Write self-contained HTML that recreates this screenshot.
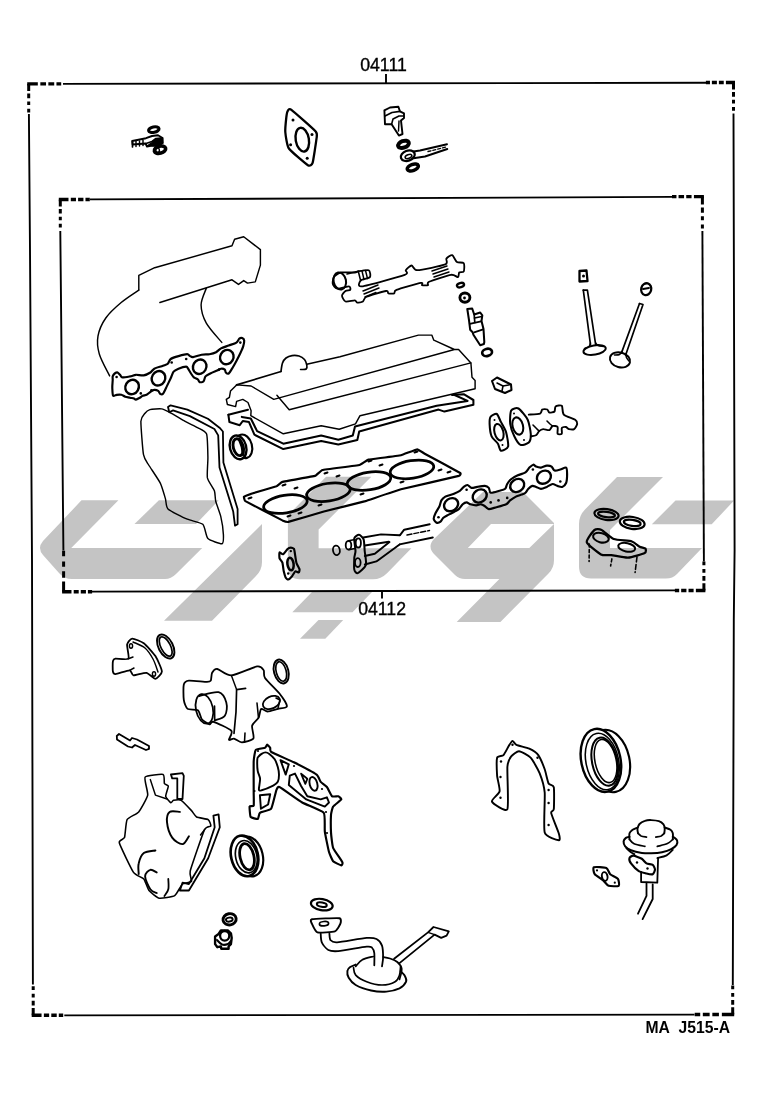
<!DOCTYPE html>
<html><head><meta charset="utf-8">
<style>
html,body{margin:0;padding:0;background:#fff;}
body{width:776px;height:1116px;overflow:hidden;position:relative;font-family:"Liberation Sans",sans-serif;}
svg{position:absolute;left:0;top:0;}
.t{font-family:"Liberation Sans",sans-serif;fill:#000;filter:grayscale(1);}
</style></head><body>
<svg width="776" height="1116" viewBox="0 0 776 1116">
<rect width="776" height="1116" fill="#fff"/>
<!-- WATERMARK -->
<g id="wm" fill="#c4c4c4" stroke="none">
<path d="M81.5 500.3 L118.4 500.3 L71.2 548 L202.2 548 L176 574 Q171 579 165 579 L72 579 Q64 579 59 573 L43 555 Q37 548 43 541 Z"/>
<path d="M158.9 500.3 L218.7 500.3 L196 524 L134.5 524 Z"/>
<path d="M262 524 L262 562 Q262 570 256 576 L212 620.7 L164 620.7 Z"/>
<path d="M287.9 515.3 L326.1 476.8 L371.3 476.8 L318.6 529.6 L318.6 548.3 L411.4 548.3 L387 573.2 Q381 579.2 373 579.2 L300 579.2 Q287.9 579.2 287.9 567 Z"/>
<path d="M312 592 L372 592 L352.5 612.3 L292.3 612.3 Z"/>
<path d="M318.5 620 L343.2 620 L325.3 638.7 L300 638.7 Z"/>
<path fill-rule="evenodd" d="M483 492 L523 492 L554 523 L554 560 Q554 568 548.5 573.5 L500.4 621.9 L456.7 621.9 L499.4 579 L465 579 Q459 579 455 575 L434.5 554.5 Q426.5 546.5 434.5 538.5 Z M491 524 L554 524 L529.3 548 L467.8 548 Z"/>
<path d="M617 477 L663 477 L610 530 L610 548 L702 548 L677 574 Q672.7 578.5 666 578.5 L591 578.5 Q579 578.5 579 566.5 L579 524 Q579 515.5 585 509.5 Z"/>
<path d="M675.5 500.6 L734 500.6 L711.7 524.3 L651.8 524.3 Z"/>
</g>
<!-- BORDERS -->
<g id="borders" fill="none" stroke="#000" stroke-width="1.9" stroke-linecap="butt">
<path d="M63 83.9 L706 82.8"/>
<path d="M733.5 113.5 L734.6 550 L733.8 620 L732.8 985"/>
<path d="M64.3 1015.4 L694.5 1014.6"/>
<path d="M28.9 114 L30 250 L32 560 L32.9 984.5"/>
<path d="M90 199.4 L672 196.9"/>
<path d="M702.4 231 L703.9 561.4"/>
<path d="M92 591.6 L675.5 590.4"/>
<path d="M60.3 231 L61 300 L63.4 550.5"/>
</g>
<g id="corners" fill="none" stroke="#000" stroke-linecap="butt">
<path d="M27.2 83.9 L61.2 83.9" stroke-width="3.4" stroke-dasharray="10.62 2.53 5.67 2.33 5.87 2.23 4.76 999"/>
<path d="M28.7 83.9 L28.7 112.4" stroke-width="3.0" stroke-dasharray="7.07 2.63 4.65 3.13 3.64 3.64 3.74 999"/>
<path d="M735.0 82.5 L705.9 82.5" stroke-width="3.4" stroke-dasharray="9.09 2.17 4.85 1.99 5.02 1.91 4.07 999"/>
<path d="M733.5 82.5 L733.5 110.7" stroke-width="3.0" stroke-dasharray="7.00 2.60 4.60 3.10 3.60 3.60 3.70 999"/>
<path d="M31.7 1015.3 L63.2 1015.3" stroke-width="3.4" stroke-dasharray="9.84 2.34 5.25 2.16 5.44 2.06 4.41 999"/>
<path d="M33.2 1015.3 L33.2 986.3" stroke-width="3.0" stroke-dasharray="7.20 2.67 4.73 3.19 3.70 3.70 3.80 999"/>
<path d="M734.2 1014.5 L694.7 1014.5" stroke-width="3.4" stroke-dasharray="12.34 2.94 6.58 2.70 6.82 2.59 5.53 999"/>
<path d="M732.7 1014.5 L732.7 985.5" stroke-width="3.0" stroke-dasharray="7.20 2.67 4.73 3.19 3.70 3.70 3.80 999"/>
<path d="M58.8 199.5 L89.8 199.5" stroke-width="3.4" stroke-dasharray="9.69 2.31 5.17 2.12 5.35 2.03 4.34 999"/>
<path d="M60.3 199.5 L60.3 227.5" stroke-width="3.0" stroke-dasharray="6.95 2.58 4.57 3.08 3.57 3.57 3.67 999"/>
<path d="M703.9 196.6 L672.0 196.6" stroke-width="3.4" stroke-dasharray="9.97 2.37 5.32 2.18 5.51 2.09 4.46 999"/>
<path d="M702.4 196.6 L702.4 228.6" stroke-width="3.0" stroke-dasharray="7.94 2.95 5.22 3.52 4.09 4.09 4.20 999"/>
<path d="M62.1 591.8 L92.1 591.8" stroke-width="3.4" stroke-dasharray="9.38 2.23 5.00 2.05 5.18 1.96 4.20 999"/>
<path d="M63.6 591.8 L63.6 550.8" stroke-width="3.0" stroke-dasharray="10.18 3.78 6.69 4.51 5.23 5.23 5.38 999"/>
<path d="M705.4 590.5 L674.9 590.5" stroke-width="3.4" stroke-dasharray="9.53 2.27 5.08 2.09 5.26 2.00 4.27 999"/>
<path d="M703.9 590.5 L703.9 561.5" stroke-width="3.0" stroke-dasharray="7.20 2.67 4.73 3.19 3.70 3.70 3.80 999"/>
</g>
<g fill="none" stroke="#000" stroke-width="1.9">
<path d="M386 74 L386 83"/>
<path d="M382 590.5 L382 598.6"/>
</g>
<text class="t" x="360.2" y="71" font-size="17.5" textLength="46.6" lengthAdjust="spacingAndGlyphs" stroke="#000" stroke-width="0.35">04111</text>
<text class="t" x="358.2" y="614.5" font-size="17.5" textLength="47.8" lengthAdjust="spacingAndGlyphs" stroke="#000" stroke-width="0.35">04112</text>
<text class="t" x="645.4" y="1032.7" font-size="17" font-weight="bold" textLength="84.6" lengthAdjust="spacingAndGlyphs">MA&#160;&#160;J515-A</text>
<!-- PARTS -->
<g id="parts" fill="none" stroke="#000" stroke-width="1.3" stroke-linejoin="round" stroke-linecap="round"><ellipse cx="153.8" cy="129.6" rx="5.3" ry="2.7" transform="rotate(-12 153.8 129.6)" stroke-width="3.12"/>
<ellipse cx="160.0" cy="149.7" rx="5.8" ry="3.5" transform="rotate(-15 160.0 149.7)" stroke-width="3.60"/>
<ellipse cx="157.5" cy="149.9" rx="1.8" ry="2.6" transform="rotate(-15 157.5 149.9)" stroke-width="1.44"/>
<path d="M132.2 141.0 L146.0 138.2 L152.0 136.0 L158.0 135.2 L162.6 138.0 L162.8 143.0 L158.0 146.0 L152.0 145.5 L147.0 146.5 L145.5 143.5 L132.6 144.5 Z" stroke-width="1.92"/>
<path d="M132.5 141.5 L132.5 147.0" stroke-width="1.68"/>
<path d="M136.0 141.5 L136.0 146.5" stroke-width="1.44"/>
<path d="M139.5 141.0 L139.5 146.0" stroke-width="1.44"/>
<path d="M143.0 140.5 L143.0 145.5" stroke-width="1.44"/>
<path d="M146.0 143.5 L152.0 141.5 L156.0 138.5 L161.0 138.0" stroke-width="1.68"/>
<path d="M152.0 142.5 L156.5 139.0 L162.0 138.5 L162.5 143.0 L158.0 146.0 L150.0 145.5 L147.5 145.8 Z" stroke-width="1.20" fill="#000"/>
<path d="M287.8 110.8 C288.2 110.2 289.1 108.1 291.4 109.8 C293.7 111.5 313.6 129.0 315.7 131.4 C317.8 133.8 316.8 136.1 316.5 138.7 C316.2 141.3 313.3 160.7 312.6 162.9 C311.9 165.1 309.9 166.4 307.9 165.2 C305.9 164.0 290.8 151.3 288.9 148.5 C287.0 145.7 285.5 134.6 285.3 132.0 C285.1 129.4 286.1 119.3 286.3 117.5 C286.5 115.7 287.4 111.4 287.8 110.8 Z" stroke-width="2.28"/>
<ellipse cx="302.3" cy="139.7" rx="6.6" ry="12.0" transform="rotate(-10 302.3 139.7)" stroke-width="2.40"/>
<circle cx="293.0" cy="120.1" r="1.5" fill="#000" stroke="none"/>
<circle cx="312.0" cy="134.5" r="1.5" fill="#000" stroke="none"/>
<circle cx="290.6" cy="144.8" r="1.5" fill="#000" stroke="none"/>
<circle cx="307.2" cy="158.2" r="1.5" fill="#000" stroke="none"/>
<path d="M384.4 110.3 L390.0 107.5 L398.4 106.7 L399.9 111.3 L404.0 113.4 L404.0 118.0 L401.0 120.6 L402.5 134.0 L398.9 135.6 L391.6 124.2 L385.0 124.2 Z" stroke-width="1.92"/>
<path d="M385.0 116.0 L392.0 112.5 L399.9 111.3" stroke-width="1.68"/>
<path d="M391.6 124.2 L393.0 119.0 L399.0 116.0 L403.0 116.0" stroke-width="1.56"/>
<path d="M399.0 121.0 L398.5 131.0" stroke-width="1.44"/>
<ellipse cx="403.5" cy="144.3" rx="5.6" ry="3.3" transform="rotate(-20 403.5 144.3)" stroke-width="3.96"/>
<ellipse cx="412.8" cy="167.5" rx="5.8" ry="3.1" transform="rotate(-20 412.8 167.5)" stroke-width="3.60"/>
<ellipse cx="407.8" cy="155.7" rx="7.2" ry="5.0" transform="rotate(-20 407.8 155.7)" stroke-width="2.28"/>
<ellipse cx="408.5" cy="156.5" rx="3.5" ry="1.8" transform="rotate(-20 408.5 156.5)" stroke-width="1.56"/>
<path d="M413.5 151.5 L420.0 150.5 L447.0 144.3" stroke-width="1.92"/>
<path d="M413.5 158.2 L425.0 156.5 L447.3 149.0" stroke-width="1.92"/>
<path d="M428.0 151.5 L446.0 147.0" stroke-width="1.32" stroke-dasharray="3 2"/>
<path d="M109.6 375.9 C107.9 372.2 101.2 360.6 99.3 354.0 C97.4 347.4 96.9 342.0 98.0 336.0 C99.1 330.0 101.9 323.6 105.8 318.0 C109.7 312.4 115.7 307.1 121.2 302.5 C126.7 297.9 135.9 292.2 138.8 290.1" stroke-width="1.44"/>
<path d="M138.8 290.1 L138.8 275.4 L154.7 267.7 L232.0 245.8 L234.6 239.3 L243.7 236.8 L260.4 249.6 L260.4 265.1 L255.3 281.9 L247.5 283.1 L243.7 280.6 L238.5 284.4 L232.0 279.8 L159.9 302.5" stroke-width="1.44"/>
<path d="M206.3 288.3 C205.4 291.1 201.1 299.2 201.1 305.0 C201.1 310.8 202.9 316.9 206.3 323.1 C209.8 329.3 219.2 339.2 221.8 342.4" stroke-width="1.44"/>
<path d="M112.7 376.4 C113.0 375.5 114.0 374.0 114.7 373.5 C115.4 373.0 116.8 372.2 117.6 372.5 C118.4 372.8 119.9 374.7 120.5 375.4 C121.1 376.1 121.1 377.3 122.4 377.4 C123.7 377.5 128.3 376.7 130.1 376.4 C131.9 376.1 134.1 374.9 135.9 374.8 C137.7 374.7 141.8 375.7 143.7 375.4 C145.6 375.1 149.0 373.4 150.4 372.5 C151.8 371.6 152.6 369.6 154.3 368.7 C156.0 367.8 161.2 366.5 163.0 365.8 C164.8 365.1 166.8 364.7 167.8 363.8 C168.8 362.9 169.3 360.0 170.7 359.0 C172.1 358.0 176.3 356.7 178.5 356.1 C180.7 355.5 185.7 354.2 187.2 354.2 C188.7 354.2 189.3 355.7 190.1 356.1 C190.9 356.5 191.5 357.3 193.0 357.1 C194.5 356.9 199.4 355.1 201.6 354.7 C203.8 354.3 207.5 354.5 209.4 354.2 C211.3 353.9 214.6 353.0 216.1 352.2 C217.6 351.4 219.3 349.3 221.0 348.4 C222.7 347.5 226.6 346.3 228.7 345.5 C230.8 344.7 235.0 343.5 236.4 342.6 C237.8 341.7 238.5 339.3 239.3 338.7 C240.1 338.1 241.5 337.8 242.2 338.1 C242.9 338.4 244.1 339.5 244.2 340.6 C244.3 341.7 243.7 344.7 243.2 346.4 C242.7 348.1 241.2 351.3 240.3 353.2 C239.4 355.1 237.4 359.0 236.4 360.9 C235.4 362.8 233.6 366.0 232.6 367.7 C231.6 369.4 229.6 372.9 228.7 373.5 C227.8 374.1 226.3 373.0 225.8 372.5 C225.3 372.0 225.4 370.1 224.8 369.6 C224.2 369.1 222.0 368.6 221.0 368.7 C220.0 368.8 218.5 370.0 217.1 370.6 C215.7 371.2 211.8 372.7 210.3 373.5 C208.8 374.3 206.4 375.4 205.5 376.4 C204.6 377.4 204.4 380.4 203.6 381.2 C202.8 382.0 200.5 382.5 199.7 382.2 C198.9 381.9 198.6 379.9 197.8 379.3 C197.0 378.7 194.8 378.2 193.9 377.4 C193.0 376.6 191.8 374.7 191.0 373.5 C190.2 372.3 188.7 369.6 188.1 368.7 C187.5 367.8 187.5 366.7 186.2 366.7 C184.9 366.7 180.2 368.0 178.5 368.7 C176.8 369.4 174.6 370.3 173.6 371.6 C172.6 372.9 171.6 376.4 170.7 378.3 C169.8 380.2 167.9 384.0 166.9 386.1 C165.9 388.2 163.9 392.8 163.0 393.8 C162.1 394.8 160.7 394.2 160.1 393.8 C159.5 393.4 159.0 391.4 158.2 390.9 C157.4 390.4 155.3 389.8 154.3 389.9 C153.3 390.0 151.4 391.2 150.4 391.9 C149.4 392.6 147.6 394.3 146.6 394.8 C145.6 395.3 143.6 395.3 142.7 395.7 C141.8 396.1 140.7 397.2 139.8 397.7 C138.9 398.2 136.7 399.5 135.9 399.6 C135.1 399.7 134.8 398.9 134.0 398.6 C133.2 398.3 131.3 398.0 130.1 397.7 C128.9 397.4 126.5 397.1 125.3 396.7 C124.1 396.3 122.6 395.1 121.4 394.8 C120.2 394.5 117.7 394.7 116.6 394.8 C115.5 394.9 113.7 396.6 113.1 395.7 C112.5 394.8 112.4 390.1 112.3 388.0 C112.2 385.9 112.6 381.8 112.7 380.3 C112.8 378.8 112.4 377.3 112.7 376.4 Z" stroke-width="2.16"/>
<ellipse cx="132.1" cy="387.0" rx="6.6" ry="7.4" transform="rotate(30 132.1 387.0)" stroke-width="2.40"/>
<ellipse cx="158.5" cy="378.3" rx="6.6" ry="7.4" transform="rotate(30 158.5 378.3)" stroke-width="2.40"/>
<ellipse cx="199.7" cy="366.7" rx="6.6" ry="7.4" transform="rotate(30 199.7 366.7)" stroke-width="2.40"/>
<ellipse cx="226.8" cy="357.1" rx="6.6" ry="7.4" transform="rotate(30 226.8 357.1)" stroke-width="2.40"/>
<circle cx="116.6" cy="377.0" r="1.3" fill="#000" stroke="none"/>
<circle cx="140.8" cy="393.4" r="1.3" fill="#000" stroke="none"/>
<circle cx="151.4" cy="390.3" r="1.3" fill="#000" stroke="none"/>
<circle cx="171.7" cy="362.5" r="1.3" fill="#000" stroke="none"/>
<circle cx="186.2" cy="359.0" r="1.3" fill="#000" stroke="none"/>
<circle cx="219.0" cy="369.6" r="1.3" fill="#000" stroke="none"/>
<circle cx="240.3" cy="342.6" r="1.3" fill="#000" stroke="none"/>
<path d="M149.9 409.6 C151.6 409.1 159.6 408.6 161.5 408.9 C163.4 409.2 167.0 411.0 169.3 412.2 C171.6 413.4 181.9 419.6 184.7 421.2 C187.5 422.8 195.4 426.4 197.6 427.7 C199.8 429.0 205.6 431.1 206.6 434.1 C207.6 437.1 207.8 452.9 207.9 457.3 C208.0 461.7 206.8 474.5 207.4 477.9 C208.1 481.2 213.6 488.5 214.4 490.8 C215.2 493.1 215.1 498.5 215.7 501.1 C216.3 503.7 220.0 513.2 220.8 516.6 C221.6 520.0 223.3 531.9 223.4 534.6 C223.5 537.3 223.7 543.3 222.1 543.7 C220.5 544.1 209.8 540.4 207.9 538.5 C206.0 536.6 204.9 526.2 202.8 524.3 C200.7 522.4 190.8 520.7 187.3 519.2 C183.8 517.7 170.2 511.0 168.0 508.9 C165.8 506.8 166.2 501.2 165.4 498.6 C164.6 496.0 162.0 486.5 160.3 483.1 C158.6 479.7 150.4 467.8 148.7 465.0 C147.0 462.2 144.3 459.1 143.5 454.7 C142.7 450.3 140.8 425.3 140.9 421.2 C141.0 417.1 143.9 414.7 144.8 413.5 C145.7 412.3 148.2 410.1 149.9 409.6 Z" stroke-width="1.44"/>
<path d="M168.0 407.0 L170.6 405.3 L187.3 409.6 L207.9 418.7 L219.5 427.7 L222.9 431.5 L223.4 462.5 L237.6 508.9 L237.6 524.3 L235.0 525.6 L233.2 511.4 L219.5 467.6 L218.2 435.4 L214.4 429.0 L189.9 416.1 L173.1 410.4 L169.3 412.2 Z" stroke-width="1.80"/>
<ellipse cx="243.8" cy="446.3" rx="8.2" ry="12.0" transform="rotate(-15 243.8 446.3)" stroke-width="2.16"/>
<ellipse cx="238.1" cy="447.4" rx="8.1" ry="12.1" transform="rotate(-15 238.1 447.4)" stroke-width="2.40" fill="#fff"/>
<ellipse cx="238.3" cy="447.2" rx="5.0" ry="8.6" transform="rotate(-15 238.3 447.2)" stroke-width="2.88"/>
<path d="M239.5 439.5 C239.9 440.8 241.6 444.5 242.2 447.0 C242.8 449.5 242.9 453.2 243.0 454.5" stroke-width="3.12"/>
<path d="M236.6 384.9 L281.0 371.5" stroke-width="1.68"/>
<path d="M281.0 371.5 C281.2 370.1 281.7 365.2 282.5 363.0 C283.3 360.8 284.4 359.2 286.0 358.0 C287.6 356.8 289.8 355.9 292.0 355.6 C294.2 355.3 296.9 355.4 299.0 356.0 C301.1 356.6 303.2 358.0 304.5 359.5 C305.8 361.0 306.5 363.4 306.8 365.0 C307.1 366.6 307.2 368.2 306.2 369.0 C305.2 369.8 301.5 369.4 300.6 369.5" stroke-width="1.68"/>
<path d="M306.8 364.3 L340.0 356.7 L418.4 335.1 L431.8 335.1 L433.8 340.2 L454.4 349.5 L458.6 349.5 L470.9 362.9 L472.0 377.3 L475.1 380.4 L475.1 388.7 L360.0 415.7 L355.5 423.9 L339.2 429.3 L321.2 425.7 L283.3 433.8 L250.8 415.7 L251.1 410.7 L248.0 402.5 L242.8 399.4 L236.6 401.4 L235.6 406.6 L227.4 404.5 L226.3 399.4 L229.4 397.3 L230.5 391.1 L236.6 384.9 L251.1 386.0 L273.8 399.4 L454.4 349.5" stroke-width="1.44"/>
<path d="M276.9 395.3 L289.2 409.7 L470.9 362.9" stroke-width="1.44"/>
<path d="M228.4 414.8 L248.0 409.7" stroke-width="2.04"/>
<path d="M241.8 416.9 L250.8 418.5 L257.1 431.1 L283.3 443.7 L321.2 435.6 L338.3 439.7 L352.8 435.6 L355.0 426.4 L436.7 405.8 L467.6 400.9 L454.0 394.7" stroke-width="2.04"/>
<path d="M228.4 414.8 L229.4 422.1 L239.7 425.2 L242.8 421.0 L249.0 422.1 L254.4 434.7 L283.3 449.1 L321.2 441.0 L338.3 444.6 L357.3 440.1 L359.2 431.5 L438.6 409.6 L444.4 411.6 L473.4 404.8 L473.4 400.0 L463.7 394.2 L452.0 395.0" stroke-width="2.04"/>
<path d="M333.9 277.1 C334.8 275.7 338.5 273.0 340.9 272.5 C343.3 272.0 352.8 272.6 354.8 272.5 C356.8 272.4 356.7 271.6 358.3 271.3 C359.9 271.0 367.3 269.5 368.7 270.2 C370.1 270.9 370.8 275.9 369.9 277.1 C369.0 278.3 361.5 279.5 360.6 280.6 C359.7 281.7 356.7 287.1 361.8 286.4 C366.9 285.7 399.6 276.7 404.7 274.8 C409.8 272.9 405.0 271.3 405.8 270.2 C406.6 269.1 410.2 265.5 411.6 265.5 C413.0 265.5 413.5 270.3 417.4 270.2 C421.3 270.1 441.9 265.8 445.3 264.4 C448.7 263.0 445.6 259.7 446.4 258.6 C447.2 257.5 451.0 254.7 452.2 255.1 C453.4 255.5 455.5 261.1 456.9 262.0 C458.3 262.9 463.0 262.1 463.8 263.2 C464.6 264.3 464.3 270.2 463.8 271.3 C463.3 272.4 459.9 271.8 459.2 272.5 C458.5 273.2 459.0 276.8 458.0 277.1 C457.0 277.4 454.4 274.3 451.0 274.8 C447.6 275.3 431.7 280.6 429.0 281.8 C426.3 283.0 428.7 284.8 427.9 285.2 C427.1 285.6 422.9 285.5 422.1 285.2 C421.3 284.9 423.9 282.4 420.9 282.9 C417.9 283.4 399.6 288.7 396.5 289.9 C393.4 291.1 395.1 293.0 394.2 293.4 C393.3 293.8 389.3 293.7 388.4 293.4 C387.5 293.1 388.7 290.6 386.1 291.0 C383.5 291.4 369.1 295.6 366.4 296.8 C363.7 298.0 364.0 300.8 362.9 301.5 C361.8 302.2 358.0 302.7 357.1 302.6 C356.2 302.5 356.2 300.4 354.8 300.3 C353.4 300.2 347.0 302.0 345.5 301.5 C344.0 301.0 342.0 296.9 342.0 295.7 C342.0 294.5 344.5 291.7 345.5 291.0 C346.5 290.3 349.8 290.4 350.2 289.9 C350.6 289.4 350.5 286.5 349.0 286.4 C347.5 286.3 339.3 289.0 337.4 288.7 C335.5 288.4 333.2 285.5 332.8 284.1 C332.4 282.7 333.0 278.5 333.9 277.1 Z" stroke-width="1.80"/>
<path d="M358.3 271.3 L360.6 280.6" stroke-width="1.56"/>
<path d="M362.0 271.0 L364.0 279.5" stroke-width="1.44"/>
<path d="M365.5 270.5 L367.5 278.5" stroke-width="1.44"/>
<path d="M363.0 291.0 L378.0 285.0" stroke-width="1.44"/>
<path d="M364.0 294.0 L379.0 288.0" stroke-width="1.44"/>
<path d="M365.0 297.0 L376.0 292.5" stroke-width="1.44"/>
<path d="M432.0 271.0 L447.0 266.0" stroke-width="1.44"/>
<path d="M433.0 274.0 L448.0 269.0" stroke-width="1.44"/>
<path d="M434.0 277.0 L449.0 272.0" stroke-width="1.44"/>
<ellipse cx="339.8" cy="281.0" rx="6.2" ry="8.6" transform="rotate(-12 339.8 281.0)" stroke-width="2.04"/>
<path d="M347.0 274.0 L358.3 271.3" stroke-width="1.56"/>
<ellipse cx="460.5" cy="285.1" rx="3.6" ry="2.1" transform="rotate(-15 460.5 285.1)" stroke-width="2.40"/>
<ellipse cx="464.9" cy="297.6" rx="5.0" ry="4.6" transform="rotate(0 464.9 297.6)" stroke-width="2.88"/>
<circle cx="464.5" cy="298.0" r="1.4" fill="#000" stroke="none"/>
<ellipse cx="487.1" cy="352.4" rx="5.0" ry="3.6" transform="rotate(-15 487.1 352.4)" stroke-width="2.64"/>
<path d="M467.3 309.0 L472.2 308.5 L474.2 314.5 L480.2 312.5 L482.3 315.3 L481.5 321.0 L483.5 329.0 L484.3 342.0 L483.9 344.0 L480.2 345.2 L473.4 334.7 L472.6 332.3 L470.2 329.8 L469.0 320.2 Z" stroke-width="2.04"/>
<path d="M469.8 323.8 L481.0 321.4" stroke-width="1.80"/>
<path d="M474.2 332.3 L483.1 329.4" stroke-width="1.80"/>
<path d="M474.2 314.5 L474.8 322.5" stroke-width="1.68"/>
<path d="M474.5 318.0 L481.8 316.5" stroke-width="1.68"/>
<path d="M579.5 271.0 L586.5 270.5 L587.5 281.0 L579.5 281.5 Z" stroke-width="2.28"/>
<circle cx="583.5" cy="276.0" r="1.5" fill="#000" stroke="none"/>
<path d="M583.3 290.2 L587.4 290.2 L595.7 344.8" stroke-width="1.68"/>
<path d="M583.3 290.2 L590.5 344.8" stroke-width="1.68"/>
<ellipse cx="594.6" cy="350.0" rx="11.3" ry="4.6" transform="rotate(-10 594.6 350.0)" stroke-width="1.92"/>
<path d="M590.5 343.0 C590.2 343.6 590.0 345.6 589.0 346.5 C588.0 347.4 585.2 348.2 584.5 348.5" stroke-width="1.56"/>
<path d="M595.7 343.0 C596.1 343.4 596.7 344.9 598.0 345.5 C599.3 346.1 602.6 346.3 603.5 346.5" stroke-width="1.56"/>
<ellipse cx="646.2" cy="289.2" rx="5.0" ry="6.0" transform="rotate(15 646.2 289.2)" stroke-width="2.28"/>
<path d="M643.0 289.0 L649.0 288.0" stroke-width="1.80"/>
<path d="M639.5 303.5 L643.0 304.5 L625.6 355.2" stroke-width="1.68"/>
<path d="M639.5 303.5 L621.4 353.1" stroke-width="1.68"/>
<ellipse cx="620.0" cy="359.9" rx="10.3" ry="7.4" transform="rotate(15 620.0 359.9)" stroke-width="1.92"/>
<path d="M621.8 351.5 C621.4 352.0 620.7 353.9 619.5 354.5 C618.3 355.1 615.3 354.9 614.5 355.0" stroke-width="1.56"/>
<path d="M626.0 353.5 C626.1 354.2 626.0 356.2 626.5 357.5 C627.0 358.8 628.6 360.4 629.0 361.0" stroke-width="1.56"/>
<path d="M492.0 381.0 L497.0 377.5 L511.0 384.5 L511.5 390.0 L505.0 393.0 L495.0 389.0 Z" stroke-width="2.04"/>
<path d="M497.0 383.0 L503.0 386.0 L511.0 384.5" stroke-width="1.56"/>
<path d="M503.0 386.0 L502.0 391.0" stroke-width="1.56"/>
<path d="M490.6 416.7 C491.4 415.5 495.6 413.4 496.8 414.0 C498.0 414.6 499.8 419.8 500.9 421.9 C502.0 424.0 505.3 429.3 506.1 432.2 C506.9 435.1 508.7 444.4 508.1 446.6 C507.5 448.8 502.1 451.1 500.9 450.7 C499.7 450.3 498.9 445.2 497.8 443.5 C496.7 441.8 492.6 438.6 491.6 436.3 C490.6 434.0 489.7 426.2 489.6 423.9 C489.5 421.6 489.8 417.9 490.6 416.7 Z" stroke-width="2.04"/>
<ellipse cx="498.9" cy="432.2" rx="4.4" ry="8.4" transform="rotate(-15 498.9 432.2)" stroke-width="2.04"/>
<circle cx="494.5" cy="420.0" r="1.0" fill="#000" stroke="none"/>
<circle cx="502.5" cy="445.0" r="1.0" fill="#000" stroke="none"/>
<path d="M511.2 410.5 C512.2 408.7 516.6 407.4 518.5 408.5 C520.4 409.6 526.3 416.8 527.7 419.8 C529.1 422.8 530.7 431.6 530.8 434.2 C530.9 436.8 530.0 441.3 528.8 442.5 C527.6 443.7 522.2 445.6 520.5 444.9 C518.8 444.2 515.5 438.8 514.3 436.3 C513.1 433.9 510.6 426.9 510.2 423.9 C509.8 420.9 510.2 412.3 511.2 410.5 Z" stroke-width="2.04"/>
<ellipse cx="517.8" cy="426.0" rx="5.2" ry="8.8" transform="rotate(-15 517.8 426.0)" stroke-width="2.04"/>
<circle cx="514.0" cy="413.5" r="1.0" fill="#000" stroke="none"/>
<circle cx="524.0" cy="440.0" r="1.0" fill="#000" stroke="none"/>
<path d="M528.8 414.6 C530.1 414.5 538.5 414.2 540.1 413.6 C541.7 413.0 541.4 410.0 542.2 409.5 C543.0 409.0 546.5 409.1 547.3 409.5 C548.1 409.9 548.6 412.4 549.4 412.6 C550.2 412.8 553.8 412.2 554.5 411.5 C555.2 410.8 554.7 407.1 555.6 406.4 C556.5 405.7 560.8 404.8 561.8 405.8 C562.8 406.8 562.2 413.0 563.8 414.6 C565.4 416.2 573.6 418.7 575.2 419.8 C576.8 420.9 577.3 422.8 577.2 423.9 C577.1 425.0 575.1 428.5 574.1 429.1 C573.1 429.7 570.0 429.3 569.0 429.1 C568.0 428.9 566.7 427.1 565.9 427.0 C565.1 426.9 562.3 427.2 561.8 428.0 C561.3 428.8 562.3 433.1 561.8 433.8 C561.3 434.5 558.1 434.6 557.6 433.8 C557.1 433.0 558.2 427.9 557.6 427.0 C557.0 426.1 553.5 425.6 552.5 426.0 C551.5 426.4 550.5 429.7 549.4 430.1 C548.3 430.5 544.4 429.0 543.2 429.1 C542.0 429.2 539.9 430.4 539.1 431.1 C538.3 431.8 537.0 434.7 536.0 435.3 C535.0 435.9 531.4 436.2 530.8 436.3" stroke-width="1.92"/>
<path d="M533.0 425.0 L536.0 428.0 L539.1 431.1" stroke-width="1.56"/>
<path d="M547.0 421.0 L550.0 424.0 L552.5 426.0" stroke-width="1.56"/>
<path d="M243.9 496.7 C244.0 496.5 250.5 494.0 251.3 493.7 C252.1 493.4 275.7 486.6 276.5 486.3 C277.3 486.0 281.4 482.2 282.4 481.9 C283.4 481.6 314.0 476.2 315.0 475.9 C316.0 475.6 321.3 470.3 322.4 470.0 C323.5 469.7 358.4 465.3 359.5 465.0 C360.6 464.7 367.4 459.8 368.4 459.6 C369.4 459.4 399.8 455.5 401.0 455.2 C402.2 454.9 416.7 449.3 417.3 449.3 C417.9 449.3 423.6 453.1 424.7 453.7 C425.8 454.3 459.3 472.4 460.2 473.0 C461.1 473.6 460.3 475.5 458.8 475.9 C457.3 476.3 403.3 488.7 401.0 489.3 C398.7 489.9 367.3 500.5 365.4 501.1 C363.5 501.7 325.8 511.0 323.9 511.5 C322.0 512.0 289.3 521.7 288.3 521.9 C287.3 522.1 283.5 520.9 282.4 520.4 C281.3 519.9 246.4 501.7 245.4 501.1 C244.4 500.5 243.8 496.9 243.9 496.7 Z" stroke-width="2.16"/>
<ellipse cx="285.4" cy="504.1" rx="22.0" ry="8.8" transform="rotate(-9 285.4 504.1)" stroke-width="2.76"/>
<ellipse cx="328.4" cy="492.2" rx="22.0" ry="8.8" transform="rotate(-9 328.4 492.2)" stroke-width="2.76"/>
<ellipse cx="369.0" cy="481.0" rx="22.0" ry="8.8" transform="rotate(-9 369.0 481.0)" stroke-width="2.76"/>
<ellipse cx="412.0" cy="469.4" rx="22.0" ry="8.8" transform="rotate(-9 412.0 469.4)" stroke-width="2.76"/>
<path d="M248.5 498.5 L251.5 497.5" stroke-width="1.92"/>
<path d="M282.5 485.5 L285.5 484.5" stroke-width="1.92"/>
<path d="M294.5 488.5 L297.5 487.5" stroke-width="1.92"/>
<path d="M287.5 516.5 L290.5 515.5" stroke-width="1.92"/>
<path d="M298.5 513.5 L301.5 512.5" stroke-width="1.92"/>
<path d="M324.5 473.5 L327.5 472.5" stroke-width="1.92"/>
<path d="M336.5 476.5 L339.5 475.5" stroke-width="1.92"/>
<path d="M318.5 505.5 L321.5 504.5" stroke-width="1.92"/>
<path d="M368.5 461.5 L371.5 460.5" stroke-width="1.92"/>
<path d="M379.5 465.5 L382.5 464.5" stroke-width="1.92"/>
<path d="M360.5 494.5 L363.5 493.5" stroke-width="1.92"/>
<path d="M414.5 452.5 L417.5 451.5" stroke-width="1.92"/>
<path d="M400.5 482.5 L403.5 481.5" stroke-width="1.92"/>
<path d="M438.5 470.5 L441.5 469.5" stroke-width="1.92"/>
<path d="M447.5 472.5 L450.5 471.5" stroke-width="1.92"/>
<path d="M433.7 518.8 C433.6 517.5 434.8 514.7 435.6 513.0 C436.4 511.3 438.7 507.9 439.5 506.2 C440.3 504.5 440.6 501.7 441.4 500.4 C442.2 499.1 443.6 497.5 445.3 496.6 C447.0 495.7 452.1 494.5 454.0 493.7 C455.9 492.9 458.5 491.7 459.8 490.8 C461.1 489.9 462.7 487.7 463.7 486.9 C464.7 486.1 466.5 484.9 467.5 485.0 C468.5 485.1 470.1 487.6 471.4 487.9 C472.7 488.2 475.4 487.2 477.2 486.9 C479.0 486.6 483.4 485.8 484.9 485.9 C486.4 486.0 488.0 487.0 488.8 487.9 C489.6 488.8 489.3 492.3 490.7 492.7 C492.1 493.1 497.5 491.3 499.4 490.8 C501.3 490.3 504.2 489.7 505.2 488.8 C506.2 487.9 506.4 485.3 507.2 484.0 C508.0 482.7 509.6 480.4 511.0 479.2 C512.4 478.0 515.9 476.2 517.8 475.3 C519.7 474.4 524.0 473.4 525.5 472.4 C527.0 471.4 528.4 468.6 529.4 467.6 C530.4 466.6 532.3 464.8 533.2 464.7 C534.1 464.6 535.1 466.2 536.1 466.6 C537.1 467.0 539.6 467.7 541.0 467.6 C542.4 467.5 545.4 465.7 546.8 465.6 C548.2 465.5 550.6 465.9 551.6 466.6 C552.6 467.3 553.3 470.1 554.5 470.5 C555.7 470.9 558.8 469.9 560.3 469.5 C561.8 469.1 565.2 467.0 566.1 467.6 C567.0 468.2 567.1 472.2 567.1 474.3 C567.1 476.4 566.8 481.3 566.1 483.0 C565.4 484.7 563.4 486.5 562.2 486.9 C561.0 487.3 558.7 486.3 557.4 485.9 C556.1 485.5 554.0 483.9 552.6 484.0 C551.2 484.1 548.3 486.3 546.8 486.9 C545.3 487.5 542.4 488.8 541.0 488.8 C539.6 488.8 537.3 487.3 536.1 486.9 C534.9 486.5 533.3 485.6 532.3 485.9 C531.3 486.2 529.3 487.9 528.4 488.8 C527.5 489.7 526.4 491.9 525.5 492.7 C524.6 493.5 522.9 494.1 521.6 494.6 C520.3 495.1 517.4 495.8 515.9 496.6 C514.4 497.4 511.4 499.4 510.1 500.4 C508.8 501.4 508.0 503.4 506.2 504.3 C504.4 505.2 498.8 506.6 496.5 507.2 C494.2 507.8 490.3 509.2 488.8 509.1 C487.3 509.0 485.9 506.8 484.9 506.2 C483.9 505.6 482.3 504.4 481.1 504.3 C479.9 504.2 477.6 505.3 476.2 505.3 C474.8 505.3 471.7 504.7 470.4 504.3 C469.1 503.9 467.6 502.4 466.6 502.4 C465.6 502.4 463.7 503.4 462.7 504.3 C461.7 505.2 460.0 508.1 458.8 509.1 C457.6 510.1 455.4 511.2 454.0 512.0 C452.6 512.8 449.6 514.1 448.2 514.9 C446.8 515.7 444.4 516.9 443.4 517.8 C442.4 518.7 441.4 521.0 440.5 521.7 C439.6 522.4 437.5 523.1 436.6 522.7 C435.7 522.3 433.8 520.1 433.7 518.8 Z" stroke-width="2.16"/>
<ellipse cx="451.1" cy="504.7" rx="7.4" ry="6.2" transform="rotate(-35 451.1 504.7)" stroke-width="2.40"/>
<ellipse cx="479.7" cy="496.0" rx="7.4" ry="6.2" transform="rotate(-35 479.7 496.0)" stroke-width="2.40"/>
<ellipse cx="517.2" cy="485.5" rx="7.4" ry="6.2" transform="rotate(-35 517.2 485.5)" stroke-width="2.40"/>
<ellipse cx="543.9" cy="477.2" rx="7.4" ry="6.2" transform="rotate(-35 543.9 477.2)" stroke-width="2.40"/>
<circle cx="438.5" cy="517.2" r="1.3" fill="#000" stroke="none"/>
<circle cx="466.6" cy="489.8" r="1.3" fill="#000" stroke="none"/>
<circle cx="490.7" cy="502.4" r="1.3" fill="#000" stroke="none"/>
<circle cx="498.5" cy="500.4" r="1.3" fill="#000" stroke="none"/>
<circle cx="507.2" cy="497.9" r="1.3" fill="#000" stroke="none"/>
<circle cx="532.9" cy="469.5" r="1.3" fill="#000" stroke="none"/>
<circle cx="560.3" cy="481.5" r="1.3" fill="#000" stroke="none"/>
<path d="M279.5 552.4 C279.8 552.1 282.3 554.6 283.0 554.3 C283.7 554.0 287.0 549.5 287.6 548.9 C288.2 548.3 290.3 547.6 290.8 547.6 C291.3 547.6 293.6 548.2 294.0 548.9 C294.4 549.6 295.1 555.1 295.3 556.3 C295.5 557.5 296.2 562.3 296.6 563.4 C297.0 564.5 299.3 568.4 299.5 569.1 C299.7 569.9 299.2 572.2 298.8 572.4 C298.4 572.6 295.9 571.1 295.3 571.4 C294.7 571.7 292.7 575.5 292.1 576.2 C291.5 576.9 288.7 579.4 288.2 579.5 C287.7 579.6 286.0 578.2 285.6 577.5 C285.2 576.8 284.0 572.3 283.7 571.1 C283.4 569.9 282.8 563.8 282.4 562.7 C282.0 561.6 279.7 559.1 279.5 558.2 C279.3 557.3 279.2 552.7 279.5 552.4 Z" stroke-width="2.16"/>
<ellipse cx="290.5" cy="564.0" rx="3.1" ry="6.3" transform="rotate(-8 290.5 564.0)" stroke-width="2.52"/>
<circle cx="290.8" cy="551.1" r="1.2" fill="#000" stroke="none"/>
<circle cx="288.2" cy="573.5" r="1.2" fill="#000" stroke="none"/>
<ellipse cx="336.4" cy="550.3" rx="3.4" ry="4.8" transform="rotate(-10 336.4 550.3)" stroke-width="1.80"/>
<path d="M354.3 538.3 C354.7 536.4 357.9 534.7 359.0 534.8 C360.1 534.9 362.9 537.5 363.6 539.4 C364.3 541.3 364.4 548.0 364.7 551.0 C365.0 554.0 366.7 562.4 365.9 565.0 C365.1 567.6 359.2 572.6 357.8 573.1 C356.4 573.6 354.7 571.4 354.3 569.6 C353.9 567.8 354.2 560.2 354.3 558.0 C354.4 555.8 355.5 553.3 355.5 551.0 C355.5 548.7 353.9 540.2 354.3 538.3 Z" stroke-width="2.04"/>
<ellipse cx="357.8" cy="562.6" rx="2.8" ry="4.4" transform="rotate(0 357.8 562.6)" stroke-width="1.80"/>
<ellipse cx="358.3" cy="542.9" rx="2.6" ry="4.6" transform="rotate(0 358.3 542.9)" stroke-width="1.80"/>
<ellipse cx="348.5" cy="545.2" rx="2.8" ry="4.4" transform="rotate(0 348.5 545.2)" stroke-width="1.80"/>
<path d="M348.5 540.8 L355.0 539.5" stroke-width="1.68"/>
<path d="M349.0 549.6 L355.0 548.5" stroke-width="1.68"/>
<path d="M363.2 537.5 L381.0 534.4 L399.6 535.2" stroke-width="1.92"/>
<path d="M400.0 535.2 L404.2 529.7 L429.7 524.3" stroke-width="1.92"/>
<path d="M364.8 545.5 L388.8 541.8" stroke-width="1.92"/>
<path d="M399.6 544.4 L432.8 537.5" stroke-width="1.92"/>
<path d="M407.0 535.0 L429.5 530.5" stroke-width="1.44" stroke-dasharray="5 2"/>
<path d="M364.8 556.0 L374.8 553.7 L389.5 542.1" stroke-width="1.92"/>
<path d="M364.8 564.5 L376.4 561.4 L399.6 544.4" stroke-width="1.92"/>
<ellipse cx="606.5" cy="514.5" rx="12.2" ry="5.4" transform="rotate(8 606.5 514.5)" stroke-width="2.16"/>
<ellipse cx="606.5" cy="514.5" rx="8.5" ry="2.6" transform="rotate(8 606.5 514.5)" stroke-width="2.16"/>
<ellipse cx="632.2" cy="522.9" rx="12.5" ry="6.0" transform="rotate(8 632.2 522.9)" stroke-width="2.16"/>
<ellipse cx="632.2" cy="522.9" rx="8.5" ry="3.0" transform="rotate(8 632.2 522.9)" stroke-width="2.16"/>
<path d="M586.8 542.2 C586.2 539.8 593.0 531.2 594.5 530.0 C596.0 528.8 599.7 529.1 601.6 530.0 C603.5 530.9 610.8 537.9 613.8 539.0 C616.8 540.1 629.3 540.7 631.9 541.5 C634.5 542.3 638.2 546.0 639.6 546.7 C641.0 547.4 644.9 548.0 645.4 548.6 C645.9 549.2 646.4 552.2 644.7 553.1 C643.0 554.0 631.4 557.5 628.0 557.7 C624.6 557.9 613.9 555.4 611.2 555.1 C608.5 554.8 603.3 555.7 600.9 554.4 C598.5 553.1 587.4 544.6 586.8 542.2 Z" stroke-width="2.28"/>
<ellipse cx="600.9" cy="537.7" rx="8.0" ry="4.6" transform="rotate(15 600.9 537.7)" stroke-width="2.04"/>
<ellipse cx="626.7" cy="547.3" rx="8.6" ry="4.2" transform="rotate(12 626.7 547.3)" stroke-width="2.04"/>
<path d="M589.3 544.1 L589.1 561.5" stroke-width="1.56" stroke-dasharray="3 2.5"/>
<path d="M611.9 558.9 L610.6 566.0" stroke-width="1.56" stroke-dasharray="3 2.5"/>
<path d="M637.0 557.0 L635.1 572.5" stroke-width="1.56" stroke-dasharray="5 2.5"/>
<path d="M112.9 661.2 C113.2 659.9 114.0 659.0 115.5 658.7 C117.0 658.5 127.2 660.1 128.4 658.7 C129.6 657.3 126.7 646.5 127.1 644.5 C127.5 642.5 130.5 638.7 132.2 638.6 C133.9 638.5 141.5 641.5 143.8 643.2 C146.1 645.0 153.6 653.3 155.4 656.1 C157.2 658.9 161.9 669.2 161.9 671.5 C161.9 673.8 157.0 678.7 155.4 678.8 C153.8 678.9 148.6 673.1 146.4 672.8 C144.2 672.5 135.2 675.6 133.5 675.4 C131.8 675.1 131.4 670.4 129.6 670.3 C127.8 670.2 117.2 674.0 115.5 674.1 C113.8 674.2 113.2 672.8 112.9 671.5 C112.6 670.2 112.6 662.5 112.9 661.2 Z" stroke-width="1.80"/>
<path d="M128.4 658.7 L133.0 657.0" stroke-width="1.44"/>
<path d="M129.6 670.3 L134.0 668.0" stroke-width="1.44"/>
<path d="M133.0 642.0 C135.0 643.0 141.7 645.2 145.0 648.0 C148.3 650.8 150.8 655.0 153.0 659.0 C155.2 663.0 157.2 669.8 158.0 672.0" stroke-width="1.44"/>
<ellipse cx="131.0" cy="646.0" rx="1.6" ry="2.2" transform="rotate(0 131.0 646.0)" stroke-width="1.44"/>
<ellipse cx="154.0" cy="674.0" rx="1.6" ry="2.2" transform="rotate(0 154.0 674.0)" stroke-width="1.44"/>
<ellipse cx="165.7" cy="646.5" rx="7.2" ry="13.0" transform="rotate(-27 165.7 646.5)" stroke-width="1.92"/>
<ellipse cx="165.7" cy="646.5" rx="4.8" ry="10.6" transform="rotate(-27 165.7 646.5)" stroke-width="1.68"/>
<ellipse cx="281.2" cy="671.5" rx="7.2" ry="12.2" transform="rotate(-15 281.2 671.5)" stroke-width="1.92"/>
<ellipse cx="281.2" cy="671.5" rx="5.0" ry="10.0" transform="rotate(-15 281.2 671.5)" stroke-width="1.68"/>
<path d="M183.8 684.4 C184.4 682.1 186.2 680.9 188.9 680.6 C191.6 680.3 204.4 681.9 207.0 681.9 C209.6 681.9 210.2 681.7 210.8 680.6 C211.4 679.5 211.3 674.2 212.1 672.8 C212.9 671.4 215.0 668.7 217.3 669.0 C219.6 669.3 226.7 675.7 231.4 675.4 C236.1 675.1 253.4 667.0 257.2 666.4 C261.0 665.8 262.8 668.9 263.7 670.3 C264.6 671.7 263.1 675.2 265.0 678.0 C266.9 680.8 277.8 691.4 280.4 694.7 C283.0 698.0 287.2 704.6 286.9 706.3 C286.6 708.0 280.1 708.3 277.8 708.9 C275.5 709.5 269.4 711.5 267.5 711.5 C265.6 711.5 262.2 708.2 261.1 708.9 C260.1 709.6 259.6 715.9 258.5 717.9 C257.4 719.9 252.7 723.3 252.1 725.7 C251.5 728.1 254.6 736.7 253.4 738.6 C252.2 740.5 244.1 742.4 241.8 742.4 C239.5 742.4 235.5 738.9 234.0 738.6 C232.5 738.3 229.2 740.7 228.9 739.8 C228.6 738.9 233.2 732.9 231.4 730.8 C229.6 728.7 216.0 722.5 213.4 721.8 C210.8 721.1 210.9 724.7 209.5 724.4 C208.1 724.1 203.2 720.9 201.8 719.2 C200.4 717.5 199.6 711.4 197.9 710.2 C196.2 709.0 189.2 710.1 187.6 708.9 C186.0 707.7 184.2 702.8 183.8 699.9 C183.4 697.0 183.2 686.7 183.8 684.4 Z" stroke-width="1.80"/>
<ellipse cx="204.4" cy="708.9" rx="8.5" ry="15.0" transform="rotate(-12 204.4 708.9)" stroke-width="1.80"/>
<path d="M199.2 696.0 C202.4 695.4 214.1 691.1 218.6 692.2 C223.1 693.3 225.2 698.6 226.3 702.5 C227.4 706.4 226.9 712.4 225.0 715.4 C223.1 718.4 216.4 719.6 214.7 720.5" stroke-width="1.80"/>
<path d="M214.5 706.0 L214.7 720.5" stroke-width="1.68"/>
<path d="M245.6 688.3 L236.6 689.6 L236.0 712.0 L234.0 733.4" stroke-width="1.68"/>
<path d="M231.4 675.4 L236.6 689.6" stroke-width="1.44"/>
<path d="M244.5 742.0 L245.0 733.0" stroke-width="1.56"/>
<path d="M257.0 703.0 L258.5 717.9" stroke-width="1.56"/>
<ellipse cx="271.4" cy="702.5" rx="9.0" ry="6.0" transform="rotate(-25 271.4 702.5)" stroke-width="1.80"/>
<path d="M276.0 698.0 L280.0 700.0 L277.8 708.9" stroke-width="1.56"/>
<path d="M116.8 736.0 L119.0 734.0 L130.0 740.5 L132.0 738.0 L137.0 739.5 L149.0 746.0 L149.0 748.9 L146.0 750.0 L135.0 745.0 L132.0 747.5 L128.0 746.5 L117.0 739.5 Z" stroke-width="1.80"/>
<path d="M145.1 777.1 C146.4 775.4 161.5 774.0 163.1 774.5 C164.7 775.0 164.0 782.5 164.4 783.5 C164.8 784.5 168.2 785.0 168.3 786.1 C168.4 787.2 165.5 795.0 165.7 796.4 C165.9 797.8 170.2 802.5 170.9 802.8 C171.6 803.1 172.6 800.5 173.5 800.3 C174.4 800.1 179.7 799.4 181.2 800.3 C182.7 801.2 190.2 809.2 191.5 810.6 C192.8 812.0 195.2 816.2 196.6 817.0 C198.0 817.8 207.0 818.9 208.2 819.6 C209.4 820.4 211.1 825.1 210.8 826.0 C210.5 826.9 206.1 826.1 204.4 829.9 C202.7 833.7 191.3 866.8 190.2 871.1 C189.1 875.4 192.1 880.3 191.5 881.4 C190.9 882.5 183.9 882.8 182.5 884.0 C181.1 885.2 176.6 894.4 174.7 895.6 C172.8 896.8 161.4 898.6 159.3 898.2 C157.2 897.8 150.3 892.1 149.0 890.5 C147.7 888.9 145.1 880.4 143.8 878.9 C142.5 877.4 135.5 875.4 133.5 872.4 C131.5 869.4 120.0 845.7 119.3 842.8 C118.5 839.9 123.8 839.5 124.5 837.6 C125.2 835.7 125.9 821.7 127.1 819.6 C128.3 817.5 137.0 813.9 138.7 811.9 C140.4 809.9 147.2 798.0 147.7 795.1 C148.2 792.2 143.8 778.8 145.1 777.1 Z" stroke-width="1.56"/>
<path d="M150.3 779.6 L155.4 795.1 L167.0 799.0" stroke-width="1.44"/>
<path d="M170.9 774.5 L182.5 773.2 L183.8 775.8 L182.5 799.0 L177.3 799.0 L177.3 778.4 L172.2 778.4 L170.9 774.5" stroke-width="1.80"/>
<path d="M179.9 811.9 C178.2 811.9 171.8 810.2 169.6 811.9 C167.4 813.6 166.6 817.9 167.0 822.2 C167.4 826.5 169.6 834.0 172.2 837.6 C174.8 841.2 179.7 844.3 182.5 844.1 C185.3 843.9 187.8 837.6 188.9 836.3" stroke-width="1.92"/>
<path d="M155.4 850.5 C153.5 850.9 146.6 851.0 143.8 853.1 C141.0 855.2 139.5 859.9 138.7 863.4 C137.8 866.9 138.7 872.2 138.7 874.0" stroke-width="1.92"/>
<path d="M156.7 872.4 C155.6 872.0 152.2 869.1 150.3 869.8 C148.4 870.4 145.1 873.1 145.1 876.3 C145.1 879.5 148.4 886.4 150.3 889.2 C152.2 892.0 155.6 892.4 156.7 893.0" stroke-width="1.92"/>
<path d="M168.3 878.9 C168.3 880.6 169.0 886.4 168.3 889.2 C167.7 892.1 165.1 894.9 164.4 896.0" stroke-width="1.80"/>
<path d="M213.4 815.7 L218.6 814.4 L219.8 827.3 L208.2 858.2 L188.9 890.5 L179.9 890.5 L182.5 882.7 L188.9 884.0 L204.4 858.2 L214.7 827.3 Z" stroke-width="1.80"/>
<path d="M204.4 829.9 L200.5 835.0" stroke-width="1.44"/>
<ellipse cx="249.6" cy="856.4" rx="13.2" ry="20.2" transform="rotate(-13 249.6 856.4)" stroke-width="2.16"/>
<ellipse cx="244.5" cy="855.9" rx="13.4" ry="20.6" transform="rotate(-13 244.5 855.9)" stroke-width="2.64" fill="#fff"/>
<ellipse cx="246.3" cy="856.7" rx="10.6" ry="16.4" transform="rotate(-13 246.3 856.7)" stroke-width="1.68"/>
<ellipse cx="247.0" cy="856.7" rx="6.9" ry="13.4" transform="rotate(-13 247.0 856.7)" stroke-width="2.76"/>
<ellipse cx="229.6" cy="919.3" rx="6.6" ry="5.6" transform="rotate(-10 229.6 919.3)" stroke-width="2.88"/>
<ellipse cx="229.3" cy="919.6" rx="3.4" ry="2.0" transform="rotate(-10 229.3 919.6)" stroke-width="1.92"/>
<path d="M220.9 930.5 L227.8 930.5 L230.9 933.3 L231.7 937.9 L230.9 944.1 L228.6 946.4 L228.6 948.7 L221.3 948.7 L220.9 946.4 L217.4 947.2 L215.1 944.1 L215.1 936.4 L218.6 934.0 Z" stroke-width="2.40"/>
<ellipse cx="224.7" cy="935.8" rx="4.6" ry="4.8" transform="rotate(0 224.7 935.8)" stroke-width="2.28"/>
<path d="M217.0 940.0 C217.8 940.8 220.2 943.8 222.0 944.5 C223.8 945.2 226.5 944.6 228.0 944.0 C229.5 943.4 230.4 941.5 230.9 941.0" stroke-width="2.04"/>
<path d="M255.8 749.9 C256.6 749.0 264.2 748.1 265.0 747.8 C265.8 747.5 266.8 744.7 267.1 744.7 C267.4 744.7 269.9 747.3 270.2 747.8 C270.5 748.3 269.6 751.0 271.2 752.0 C272.8 753.0 290.9 760.8 293.9 762.3 C296.9 763.8 314.8 773.3 316.6 774.6 C318.4 775.9 320.0 781.1 320.7 781.9 C321.4 782.7 326.1 786.0 326.9 787.0 C327.7 788.0 331.3 795.7 332.1 796.3 C332.9 796.9 337.6 796.1 338.2 796.3 C338.8 796.5 341.6 798.7 341.3 799.4 C341.0 800.1 333.8 805.6 333.1 806.6 C332.4 807.6 331.1 813.1 331.0 814.8 C330.9 816.5 330.9 830.2 331.0 832.4 C331.1 834.6 332.3 845.8 333.1 847.8 C333.9 849.8 341.9 861.1 342.4 862.3 C342.9 863.5 341.9 865.5 341.3 865.4 C340.7 865.3 333.9 862.1 333.1 861.2 C332.3 860.3 329.6 854.0 329.0 852.0 C328.4 850.0 325.1 833.9 324.8 831.3 C324.5 828.7 325.3 814.7 323.8 812.8 C322.3 810.9 305.2 804.2 302.2 802.5 C299.2 800.8 281.2 787.8 279.5 787.0 C277.8 786.2 277.0 788.7 276.4 790.1 C275.8 791.5 272.3 807.2 271.2 808.7 C270.1 810.2 260.8 812.1 259.9 812.8 C259.0 813.5 258.4 818.7 257.8 819.0 C257.2 819.3 251.1 817.7 250.6 816.9 C250.1 816.1 249.4 807.4 249.6 806.6 C249.8 805.8 253.4 806.6 253.7 805.6 C254.0 804.6 253.7 795.2 253.7 792.2 C253.7 789.2 253.6 764.0 253.7 761.2 C253.8 758.4 255.0 750.8 255.8 749.9 Z" stroke-width="2.16"/>
<path d="M261.6 753.9 C262.5 753.3 264.5 752.4 265.5 752.4 C266.5 752.4 268.1 753.0 269.3 753.9 C270.5 754.8 273.6 757.5 274.7 759.3 C275.8 761.1 277.2 765.0 277.8 767.1 C278.4 769.2 279.0 772.8 279.0 774.8 C279.0 776.8 278.6 780.4 277.8 781.8 C277.0 783.2 275.4 784.5 273.2 785.6 C271.0 786.7 263.5 789.8 261.6 790.3 C259.7 790.8 259.1 791.0 258.9 789.5 C258.7 788.0 260.3 781.2 260.1 778.7 C259.9 776.2 258.1 773.5 257.7 770.9 C257.3 768.3 257.2 761.2 257.3 759.3 C257.4 757.4 257.9 757.3 258.5 756.6 C259.1 755.9 260.7 754.5 261.6 753.9 Z" stroke-width="1.92"/>
<path d="M259.9 795.3 L270.2 794.2 L268.1 804.5 L260.9 808.7 Z" stroke-width="1.92"/>
<path d="M280.5 760.2 L288.8 764.3 L285.7 774.6 Z" stroke-width="1.92"/>
<path d="M289.8 775.7 L295.0 773.6 L301.1 786.0 L307.3 796.3 L320.7 799.4 L326.9 797.3 L329.0 802.5 L324.8 806.6 L306.3 799.4 L288.8 784.9 Z" stroke-width="1.92"/>
<ellipse cx="313.5" cy="783.9" rx="3.8" ry="7.0" transform="rotate(-15 313.5 783.9)" stroke-width="1.92"/>
<path d="M301.1 773.6 L307.3 778.8 L305.3 783.9 Z" stroke-width="1.80"/>
<circle cx="254.5" cy="791.0" r="1.1" fill="#000" stroke="none"/>
<circle cx="294.0" cy="766.0" r="1.1" fill="#000" stroke="none"/>
<circle cx="322.0" cy="789.0" r="1.1" fill="#000" stroke="none"/>
<circle cx="326.0" cy="812.0" r="1.1" fill="#000" stroke="none"/>
<circle cx="327.0" cy="833.0" r="1.1" fill="#000" stroke="none"/>
<circle cx="258.0" cy="751.0" r="1.1" fill="#000" stroke="none"/>
<ellipse cx="321.8" cy="904.6" rx="11.0" ry="5.6" transform="rotate(10 321.8 904.6)" stroke-width="2.16"/>
<ellipse cx="321.8" cy="904.6" rx="5.0" ry="2.2" transform="rotate(10 321.8 904.6)" stroke-width="2.04"/>
<path d="M311.9 919.3 C314.2 918.8 336.9 917.8 339.3 918.2 C341.7 918.6 340.8 922.6 340.4 923.7 C340.0 924.8 336.8 930.6 334.9 931.3 C333.0 932.0 319.3 933.0 317.4 932.4 C315.5 931.8 312.4 924.8 311.9 923.7 C311.4 922.6 309.6 919.8 311.9 919.3 Z" stroke-width="1.92"/>
<ellipse cx="324.0" cy="923.7" rx="4.6" ry="2.2" transform="rotate(-5 324.0 923.7)" stroke-width="1.68"/>
<path d="M320.7 933.5 C320.8 934.7 320.8 940.1 321.8 942.3 C322.8 944.5 326.1 948.8 328.3 950.0 C330.5 951.2 333.1 951.5 338.2 951.1 C343.3 950.7 362.2 947.1 366.7 946.7 C371.2 946.3 371.1 946.9 372.1 947.8 C373.1 948.7 374.0 950.9 374.3 953.2 C374.6 955.5 374.3 963.7 374.3 965.3" stroke-width="1.80"/>
<path d="M329.4 933.5 C329.5 934.4 329.5 938.9 330.5 940.1 C331.5 941.3 332.3 942.6 337.1 942.3 C341.9 942.0 361.4 938.3 366.7 937.9 C372.0 937.5 374.5 938.0 376.5 939.0 C378.5 940.0 381.1 943.1 382.0 945.6 C382.9 948.1 383.1 954.8 383.1 957.6 C383.1 960.4 382.1 965.2 382.0 966.4" stroke-width="1.80"/>
<path d="M355.7 964.6 C354.8 965.0 351.6 966.0 350.2 967.0 C348.8 968.0 347.6 969.0 347.4 970.8 C347.1 972.6 347.3 975.4 348.7 977.8 C350.1 980.2 352.0 982.9 355.7 985.0 C359.4 987.1 366.0 989.4 371.1 990.5 C376.2 991.6 381.7 992.0 386.4 991.6 C391.1 991.2 396.2 989.9 399.5 988.3 C402.8 986.6 405.2 983.8 406.1 981.7 C407.0 979.6 405.7 977.5 404.8 975.8 C403.9 974.0 401.3 972.0 400.6 971.2" stroke-width="1.92"/>
<path d="M353.5 967.5 C353.9 968.8 353.5 972.7 355.7 975.1 C357.9 977.5 362.3 980.1 366.7 981.7 C371.1 983.4 377.3 985.0 382.0 985.0 C386.7 985.0 392.2 983.4 395.1 981.7 C398.0 980.1 398.6 977.7 399.5 975.1 C400.4 972.5 400.4 967.5 400.6 966.0" stroke-width="1.68"/>
<path d="M355.7 966.4 C356.8 965.3 359.4 961.4 362.3 959.8 C365.2 958.1 371.4 957.0 373.2 956.5" stroke-width="1.68"/>
<path d="M383.0 957.0 C384.2 957.2 387.6 957.7 390.0 958.5 C392.4 959.3 395.4 960.3 397.3 962.0 C399.2 963.7 401.3 965.7 401.7 968.6 C402.1 971.5 399.9 977.7 399.5 979.5" stroke-width="1.68"/>
<path d="M394.1 958.7 L428.0 932.4 L433.5 927.0 L448.8 931.3 L446.6 935.7 L441.2 937.9 L434.6 934.6 L399.5 963.1" stroke-width="1.80"/>
<path d="M428.0 932.4 L434.6 934.6" stroke-width="1.44"/>
<path d="M491.9 801.5 C491.1 799.7 499.1 793.8 499.6 791.2 C500.1 788.6 497.4 779.1 497.1 775.7 C496.9 772.4 496.5 759.8 497.1 757.7 C497.7 755.6 502.3 756.3 503.5 755.1 C504.7 753.9 507.8 747.5 508.7 746.1 C509.6 744.7 511.7 741.0 512.5 740.9 C513.3 740.8 514.7 744.0 516.4 744.8 C518.1 745.6 527.1 747.7 529.3 748.7 C531.5 749.7 536.8 753.0 538.3 755.1 C539.8 757.2 543.7 766.5 544.7 769.3 C545.7 772.1 547.7 781.7 548.6 783.5 C549.5 785.3 553.3 784.7 553.8 787.3 C554.3 789.9 554.1 806.6 553.8 809.2 C553.5 811.8 550.7 810.6 551.2 813.1 C551.7 815.6 558.1 831.0 558.9 833.7 C559.7 836.4 560.3 840.3 558.9 840.2 C557.5 840.1 546.1 837.2 544.7 832.4 C543.3 827.6 545.2 798.4 544.7 792.5 C544.2 786.6 541.0 776.6 539.6 773.1 C538.2 769.6 532.7 759.9 530.6 757.7 C528.5 755.5 520.9 751.3 519.0 751.2 C517.1 751.1 512.4 754.9 511.2 756.4 C510.0 757.9 507.8 761.4 507.4 766.7 C507.0 772.0 508.9 805.7 507.4 809.2 C505.8 812.7 492.7 803.3 491.9 801.5 Z" stroke-width="1.92"/>
<circle cx="501.0" cy="761.5" r="1.2" fill="#000" stroke="none"/>
<circle cx="500.5" cy="777.0" r="1.2" fill="#000" stroke="none"/>
<circle cx="500.5" cy="797.7" r="1.2" fill="#000" stroke="none"/>
<circle cx="512.5" cy="744.8" r="1.2" fill="#000" stroke="none"/>
<circle cx="537.5" cy="757.7" r="1.2" fill="#000" stroke="none"/>
<circle cx="548.6" cy="790.0" r="1.2" fill="#000" stroke="none"/>
<circle cx="548.6" cy="803.0" r="1.2" fill="#000" stroke="none"/>
<circle cx="548.6" cy="825.0" r="1.2" fill="#000" stroke="none"/>
<ellipse cx="609.2" cy="761.0" rx="20.3" ry="31.6" transform="rotate(-12 609.2 761.0)" stroke-width="2.16"/>
<ellipse cx="600.9" cy="760.4" rx="19.6" ry="32.0" transform="rotate(-12 600.9 760.4)" stroke-width="2.40" fill="#fff"/>
<ellipse cx="602.3" cy="761.5" rx="16.3" ry="28.6" transform="rotate(-12 602.3 761.5)" stroke-width="1.56"/>
<ellipse cx="604.7" cy="761.6" rx="12.6" ry="24.5" transform="rotate(-12 604.7 761.6)" stroke-width="2.04"/>
<ellipse cx="605.6" cy="761.0" rx="10.6" ry="22.0" transform="rotate(-12 605.6 761.0)" stroke-width="1.56"/>
<path d="M638.0 833.2 C637.9 832.4 637.2 830.1 637.5 828.6 C637.8 827.1 638.3 825.3 639.5 824.0 C640.7 822.7 643.0 821.5 644.9 820.9 C646.8 820.2 648.8 820.0 651.1 820.1 C653.4 820.2 656.8 820.5 658.9 821.2 C661.0 821.9 662.5 823.2 663.5 824.4 C664.5 825.6 664.6 827.1 664.7 828.6 C664.8 830.1 664.4 832.4 664.3 833.2" stroke-width="1.92"/>
<path d="M638.0 833.2 C638.5 833.7 639.7 835.2 641.1 835.9 C642.5 836.5 645.6 836.9 646.5 837.1" stroke-width="1.68"/>
<path d="M655.8 837.1 C656.7 836.9 659.8 836.5 661.2 835.9 C662.6 835.2 663.8 833.7 664.3 833.2" stroke-width="1.68"/>
<path d="M637.5 827.5 C636.7 827.9 633.9 828.8 632.6 829.7 C631.3 830.7 630.0 831.6 629.5 833.2 C629.0 834.8 629.5 838.4 629.5 839.4" stroke-width="1.92"/>
<path d="M664.7 827.5 C665.7 827.9 669.1 828.8 670.5 829.7 C671.9 830.7 672.4 831.6 672.8 833.2 C673.2 834.8 672.8 838.4 672.8 839.4" stroke-width="1.92"/>
<path d="M629.5 839.4 C630.3 840.1 631.5 842.6 634.1 843.8 C636.7 845.0 643.1 846.0 644.9 846.4" stroke-width="1.68"/>
<path d="M657.3 846.4 C659.0 845.9 664.8 844.8 667.4 843.6 C670.0 842.4 671.9 840.1 672.8 839.4" stroke-width="1.68"/>
<path d="M629.5 836.8 C628.9 837.0 626.9 837.1 625.9 837.9 C624.9 838.7 623.7 840.0 623.6 841.4 C623.5 842.8 624.0 844.9 625.2 846.4 C626.4 847.9 628.2 849.2 631.0 850.3 C633.8 851.4 638.5 852.4 641.9 852.9 C645.2 853.4 647.8 853.4 651.1 853.3 C654.5 853.2 658.6 853.0 662.0 852.3 C665.4 851.6 668.8 850.5 671.2 849.2 C673.6 848.0 675.6 846.2 676.6 844.8 C677.6 843.3 677.5 841.7 677.1 840.5 C676.7 839.3 675.0 838.2 674.3 837.6 C673.6 837.0 673.0 836.9 672.8 836.8" stroke-width="2.04"/>
<path d="M626.4 848.2 C627.2 848.9 629.7 851.3 631.0 852.3 C632.3 853.3 633.8 853.8 634.4 854.1" stroke-width="1.80"/>
<path d="M657.3 858.0 C658.8 857.6 664.0 856.8 666.6 855.4 C669.2 854.0 671.8 850.7 672.8 849.8" stroke-width="1.80"/>
<path d="M629.5 858.0 C629.8 857.1 631.9 855.6 633.3 855.7 C634.7 855.8 640.3 857.9 641.8 858.8 C643.3 859.7 645.2 862.7 646.5 863.4 C647.8 864.1 651.7 864.2 652.7 864.9 C653.7 865.6 655.0 868.5 655.0 869.6 C655.0 870.7 653.7 873.7 652.7 874.2 C651.7 874.7 648.1 873.9 646.5 873.5 C644.9 873.1 640.6 872.3 638.8 871.1 C637.0 869.9 632.1 864.9 631.0 863.4 C629.9 861.9 629.2 858.9 629.5 858.0 Z" stroke-width="2.16"/>
<circle cx="637.0" cy="862.5" r="1.2" fill="#000" stroke="none"/>
<circle cx="647.5" cy="868.5" r="1.2" fill="#000" stroke="none"/>
<path d="M641.1 871.9 L641.1 882.0 L657.3 882.7 L658.1 858.0" stroke-width="1.80"/>
<path d="M646.5 883.5 L646.5 895.9 L638.0 913.7" stroke-width="1.80"/>
<path d="M652.7 884.3 L652.7 899.0 L642.6 919.1" stroke-width="1.80"/>
<path d="M593.9 867.3 C595.1 866.7 604.7 867.3 606.3 868.0 C607.9 868.7 609.0 873.1 610.2 874.2 C611.4 875.3 617.0 877.7 617.9 878.9 C618.8 880.1 619.6 885.1 618.7 885.8 C617.8 886.5 610.1 886.3 608.6 885.8 C607.1 885.3 604.6 881.6 603.2 880.4 C601.8 879.2 595.6 875.5 594.7 874.2 C593.8 872.9 592.7 867.9 593.9 867.3 Z" stroke-width="2.16"/>
<ellipse cx="604.7" cy="876.5" rx="2.8" ry="4.4" transform="rotate(-10 604.7 876.5)" stroke-width="1.92"/>
<circle cx="597.0" cy="870.4" r="1.1" fill="#000" stroke="none"/>
<circle cx="614.8" cy="882.7" r="1.1" fill="#000" stroke="none"/>
</g>
</svg>
</body></html>
